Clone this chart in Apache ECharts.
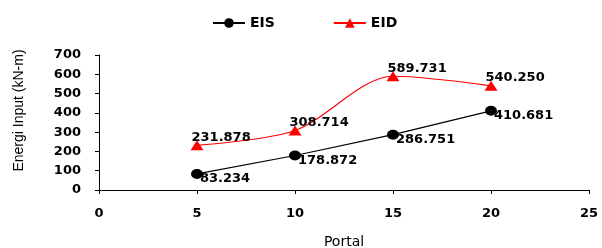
<!DOCTYPE html>
<html><head><meta charset="utf-8">
<script src="https://cdn.jsdelivr.net/npm/echarts@6/dist/echarts.min.js"></script>
<style>html,body{margin:0;padding:0;background:#fff}#c{width:602px;height:248px}</style>
</head><body><div id="c"></div>
<script>
const portal = [5, 10, 15, 20];
const eis = [83.234, 178.872, 286.751, 410.681];
const eid = [231.878, 308.714, 589.731, 540.250];
const xTicks = [0, 5, 10, 15, 20, 25];
const yTicks = [0, 100, 200, 300, 400, 500, 600, 700];

const chart = echarts.init(document.getElementById('c'), null, {renderer: 'canvas'});
const lblFont = {fontFamily: 'DejaVu Sans', fontWeight: 'bold', fontSize: 13, color: '#000'};
chart.setOption({
  animation: false,
  backgroundColor: '#fff',
  legend: {
    top: 11, left: 207, itemGap: 58, itemWidth: 32, itemHeight: 12,
    textStyle: {fontFamily: 'DejaVu Sans', fontWeight: 'bold', fontSize: 14, color: '#000'},
    data: ['EIS', 'EID']
  },
  grid: {left: 99, right: 13, top: 55, bottom: 58, containLabel: false, outerBoundsMode: 'none'},
  xAxis: {
    type: 'value', min: xTicks[0], max: xTicks[xTicks.length - 1], interval: 5,
    name: 'Portal', nameLocation: 'middle', nameGap: 45,
    nameTextStyle: {fontFamily: 'DejaVu Sans', fontSize: 14, color: '#000'},
    axisLine: {onZero: false, lineStyle: {color: '#000', width: 1}},
    axisTick: {show: true, inside: false, length: 4, lineStyle: {color: '#000'}},
    axisLabel: Object.assign({margin: 17}, lblFont),
    splitLine: {show: false}
  },
  yAxis: {
    type: 'value', min: yTicks[0], max: yTicks[yTicks.length - 1], interval: 100,
    name: 'Energi Input (kN-m)', nameLocation: 'middle', nameGap: 73,
    nameTextStyle: {fontFamily: 'Liberation Sans', fontSize: 14, color: '#000', padding: [0, 0, 0, 24]},
    axisLine: {show: true, lineStyle: {color: '#000', width: 1}},
    axisTick: {show: true, inside: false, length: 4, lineStyle: {color: '#000'}},
    axisLabel: Object.assign({margin: 18}, lblFont),
    splitLine: {show: false}
  },
  series: [
    {
      name: 'EIS', type: 'line',
      data: portal.map((p, i) => [p, eis[i]]),
      symbol: 'circle', symbolSize: [12, 10],
      itemStyle: {color: '#000'},
      lineStyle: {color: '#000', width: 1.2},
      label: Object.assign({show: true, position: 'right', distance: 0, offset: [-3, 5],
        formatter: p => p.value[1].toFixed(3)}, lblFont)
    },
    {
      name: 'EID', type: 'line', smooth: 0.3,
      data: portal.map((p, i) => [p, eid[i]]),
      symbol: 'triangle', symbolSize: [13, 10],
      itemStyle: {color: '#ff0000'},
      lineStyle: {color: '#ff0000', width: 1.2},
      label: Object.assign({show: true, position: 'right', distance: 0, offset: [-12, -8],
        formatter: p => p.value[1].toFixed(3)}, lblFont)
    }
  ]
});
</script></body></html>
